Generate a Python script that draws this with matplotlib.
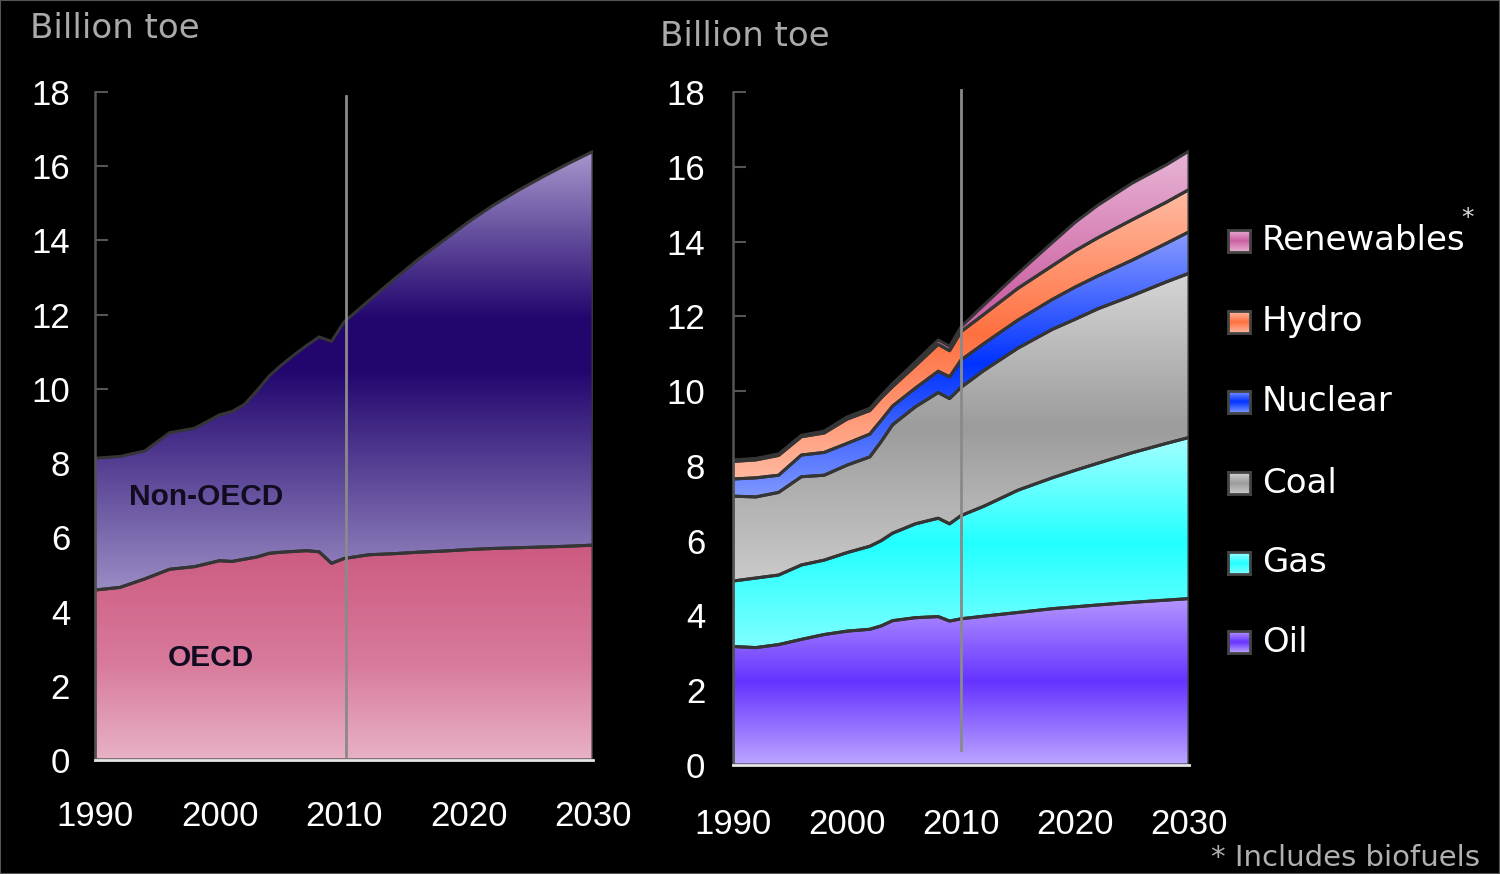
import numpy as np
import matplotlib.pyplot as plt
from matplotlib.colors import LinearSegmentedColormap
from matplotlib.patches import Rectangle

# left panel: by region (billion toe)
years_region = [1990, 1992, 1994, 1996, 1998, 2000, 2001, 2002, 2003, 2004, 2005, 2006, 2007,
                2008, 2009, 2010, 2012, 2014, 2016, 2018, 2020, 2022, 2024, 2026, 2028, 2030]
oecd = [4.58, 4.65, 4.88, 5.14, 5.21, 5.37, 5.35, 5.41, 5.47, 5.57, 5.60, 5.62, 5.64,
        5.61, 5.30, 5.43, 5.53, 5.56, 5.60, 5.63, 5.67, 5.70, 5.72, 5.74, 5.76, 5.79]
non_oecd = [3.55, 3.53, 3.45, 3.68, 3.73, 3.93, 4.04, 4.17, 4.48, 4.78, 5.05, 5.30, 5.53,
            5.79, 5.98, 6.37, 6.85, 7.39, 7.90, 8.37, 8.83, 9.25, 9.63, 9.98, 10.31, 10.61]

# right panel: by fuel (billion toe)
years_fuel = [1990, 1992, 1994, 1996, 1998, 2000, 2002, 2003, 2004, 2006, 2008, 2009, 2010,
              2012, 2015, 2018, 2020, 2022, 2025, 2028, 2030]
oil = [3.17, 3.14, 3.22, 3.36, 3.49, 3.58, 3.63, 3.72, 3.86, 3.94, 3.97, 3.85, 3.91,
       3.98, 4.08, 4.18, 4.23, 4.28, 4.35, 4.41, 4.45]
gas = [1.75, 1.86, 1.86, 1.99, 1.99, 2.10, 2.22, 2.28, 2.34, 2.51, 2.63, 2.60, 2.76,
       2.94, 3.27, 3.50, 3.65, 3.79, 4.00, 4.19, 4.31]
coal = [2.27, 2.17, 2.21, 2.36, 2.27, 2.34, 2.39, 2.65, 2.90, 3.13, 3.36, 3.35, 3.43,
        3.63, 3.80, 3.97, 4.04, 4.13, 4.20, 4.32, 4.39]
nuclear = [0.46, 0.51, 0.46, 0.58, 0.61, 0.58, 0.61, 0.57, 0.50, 0.50, 0.57, 0.58, 0.73,
           0.72, 0.75, 0.80, 0.86, 0.88, 0.95, 1.03, 1.11]
hydro = [0.47, 0.48, 0.53, 0.49, 0.52, 0.65, 0.63, 0.60, 0.52, 0.60, 0.72, 0.70, 0.76,
         0.78, 0.85, 0.90, 0.97, 1.02, 1.08, 1.10, 1.13]
renewables = [0.04, 0.04, 0.04, 0.04, 0.05, 0.06, 0.06, 0.06, 0.08, 0.10, 0.12, 0.12, 0.13,
              0.25, 0.40, 0.62, 0.76, 0.87, 0.98, 1.00, 1.03]

fuel_names = ['Oil', 'Gas', 'Coal', 'Nuclear', 'Hydro', 'Renewables']
x_ticks = [1990, 2000, 2010, 2020, 2030]
y_ticks = list(range(0, 19, 2))

# gradient stops (bottom -> top of each area)
region_grads = {
    'OECD': [(0, '#e8b2c6'), (0.45, '#d87a9c'), (1, '#cc5a80')],
    'Non-OECD': [(0, '#9a8cc4'), (0.5, '#22066e'), (0.62, '#22066e'), (1, '#a696cc')],
}
fuel_grads = {
    'Oil': [(0, '#bca6ff'), (0.5, '#6633ff'), (1, '#b496ff')],
    'Gas': [(0, '#80ffff'), (0.5, '#22ffff'), (1, '#a4ffff')],
    'Coal': [(0, '#cacaca'), (0.5, '#9c9c9c'), (1, '#d6d6d6')],
    'Nuclear': [(0, '#7f98ff'), (0.5, '#0033ff'), (1, '#8a9cff')],
    'Hydro': [(0, '#ffb8a0'), (0.5, '#ff7040'), (1, '#ffbca2')],
    'Renewables': [(0, '#e8b0d0'), (0.5, '#cc60a2'), (1, '#e8b6d6')],
}

plt.rcParams['font.family'] = 'Liberation Sans'
TEXT_FONT = 'DejaVu Sans'


def gradient_area(ax, x, lower, upper, stops):
    poly = ax.fill_between(x, lower, upper, facecolor='none', edgecolor='#353535',
                           linewidth=2.2, zorder=3)
    cmap = LinearSegmentedColormap.from_list('g', stops)
    grad = np.linspace(0, 1, 256).reshape(-1, 1)
    im = ax.imshow(grad, cmap=cmap, extent=[x[0], x[-1], np.min(lower), np.max(upper)],
                   origin='lower', aspect='auto', interpolation='bilinear', zorder=2)
    im.set_clip_path(poly.get_paths()[0], transform=ax.transData)


def style_axes(ax, ypad, xpad):
    ax.set_facecolor('black')
    ax.set_xlim(1990, 2030)
    ax.set_ylim(0, 18)
    ax.set_xticks(x_ticks)
    ax.set_yticks(y_ticks)
    for s in ['top', 'right']:
        ax.spines[s].set_visible(False)
    ax.spines['left'].set_color('#555555')
    ax.spines['left'].set_linewidth(1.8)
    ax.spines['bottom'].set_color('#e6e6e6')
    ax.spines['bottom'].set_linewidth(2)
    ax.spines['left'].set_zorder(5)
    ax.spines['bottom'].set_zorder(5)
    ax.tick_params(axis='y', direction='in', length=9, width=1.5, color='#555555',
                   labelcolor='white', labelsize=25, pad=ypad)
    ax.tick_params(axis='x', length=0, labelcolor='white', labelsize=25, pad=xpad)


fig = plt.figure(figsize=(15, 8.74), dpi=100, facecolor='black')
fig.patches.append(Rectangle((0, 0), 1, 1, transform=fig.transFigure, fill=False,
                             edgecolor='#555555', linewidth=1.5))

# ---- left: by region
ax1 = fig.add_axes([95 / 1500, 114 / 874, 498 / 1500, 668 / 874])
xr = np.array(years_region, dtype=float)
base = np.zeros(len(xr))
for name, vals in [('OECD', oecd), ('Non-OECD', non_oecd)]:
    top = base + np.array(vals)
    gradient_area(ax1, xr, base, top, region_grads[name])
    base = top
ax1.plot([2010.2, 2010.2], [0.1, 17.9], color='#8a8a8a', lw=2, zorder=4)
ax1.text(1998.9, 7.09, 'Non-OECD', ha='center', va='center', fontsize=21.5,
         fontweight='bold', color='#120c20', zorder=6)
ax1.text(1999.3, 2.75, 'OECD', ha='center', va='center', fontsize=21.5,
         fontweight='bold', color='#120c20', zorder=6)
style_axes(ax1, 18, 29)

# ---- right: by fuel
ax2 = fig.add_axes([733 / 1500, 109 / 874, 456 / 1500, 673 / 874])
xf = np.array(years_fuel, dtype=float)
base = np.zeros(len(xf))
for name, vals in zip(fuel_names, [oil, gas, coal, nuclear, hydro, renewables]):
    top = base + np.array(vals)
    gradient_area(ax2, xf, base, top, fuel_grads[name])
    base = top
ax2.plot([2010, 2010], [0.4, 18.05], color='#8a8a8a', lw=2, zorder=4, clip_on=False)
style_axes(ax2, 20, 31)

# titles
fig.text(30 / 1500, 1 - 28 / 874, 'Billion toe', color='#aaaaaa', fontsize=24.5,
         family=TEXT_FONT, va='center', ha='left')
fig.text(660 / 1500, 1 - 37 / 874, 'Billion toe', color='#aaaaaa', fontsize=24.5,
         family=TEXT_FONT, va='center', ha='left')

# legend
row_y = {'Renewables': 241, 'Hydro': 322, 'Nuclear': 402, 'Coal': 483, 'Gas': 563, 'Oil': 642}
grad = np.linspace(0, 1, 64).reshape(-1, 1)
for name in fuel_names:
    yc = row_y[name]
    sq = fig.add_axes([1228 / 1500, (874 - yc - 11) / 874, 22 / 1500, 22 / 874])
    sq.imshow(grad, cmap=LinearSegmentedColormap.from_list('g', fuel_grads[name]),
              origin='lower', aspect='auto', interpolation='bilinear')
    sq.set_xticks([])
    sq.set_yticks([])
    for s in sq.spines.values():
        s.set_color('#444444')
        s.set_linewidth(2)
    fig.text(1262 / 1500, 1 - yc / 874, name, color='white', fontsize=24.5,
             family=TEXT_FONT, va='center', ha='left')
fig.text(1468 / 1500, 1 - 218 / 874, '*', color='#dddddd', fontsize=18,
         family=TEXT_FONT, va='center', ha='center')
fig.text(1480 / 1500, 1 - 858 / 874, '* Includes biofuels', color='#b0b0b0', fontsize=21,
         family=TEXT_FONT, va='center', ha='right')

fig.savefig('out.png', dpi=100, facecolor='black')
